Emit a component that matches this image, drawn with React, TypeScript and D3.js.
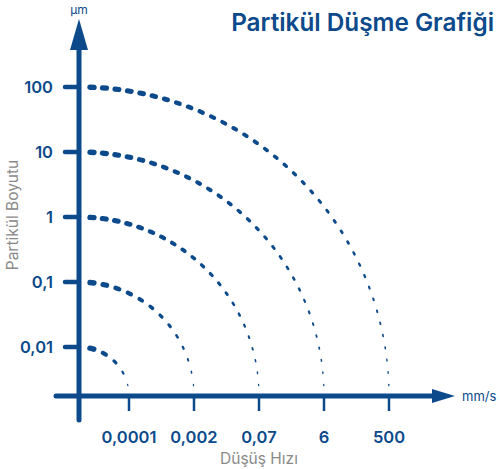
import React from "react";
import * as d3 from "d3";

const sizeLabels = ["0,01", "0,1", "1", "10", "100"];
const speedLabels = ["0,0001", "0,002", "0,07", "6", "500"];
const unitY = "µm";
const unitX = "mm/s";
const title = "Partikül Düşme Grafiği";
const yTitle = "Partikül Boyutu";
const xTitle = "Düşüş Hızı";

const BLUE = "#0c4a8b";
const GRAY = "#8a8a8a";
const FONT = "Inter, 'Noto Sans', sans-serif";

export default function App() {
  const W = 500, H = 469;
  const x0 = 79, y0 = 396;
  const x = d3.scaleLinear().domain([1, 5]).range([129, 389]);
  const y = d3.scaleLinear().domain([1, 5]).range([347, 87]);

  const arcs = sizeLabels.map((_, i) => {
    const rx = x(i + 1) - x0;
    const ry = y0 - y(i + 1);
    const thEnd = Math.acos(11 / ry);
    const samples = d3.range(0, 101).map((k) => {
      const t = (k / 100) * thEnd;
      return [x0 + rx * Math.sin(t), y0 - ry * Math.cos(t)];
    });
    let len = 0;
    for (let k = 1; k < samples.length; k++) {
      len += Math.hypot(samples[k][0] - samples[k - 1][0], samples[k][1] - samples[k - 1][1]);
    }
    const thStart = 13 / rx;
    const n = Math.max(3, Math.round((len - 13) / 12.5));
    return d3.range(0, n + 1).map((k) => {
      const f = k / n;
      const t = thStart + f * (thEnd - thStart);
      const px = x0 + rx * Math.sin(t);
      const py = y0 - ry * Math.cos(t);
      let tx = rx * Math.cos(t), ty = ry * Math.sin(t);
      const m = Math.hypot(tx, ty);
      tx /= m; ty /= m;
      const w = 5.4 - 4.2 * f;
      const L = 4 - 2.5 * f;
      return { x1: px - (tx * L) / 2, y1: py - (ty * L) / 2, x2: px + (tx * L) / 2, y2: py + (ty * L) / 2, w };
    });
  });

  return (
    <svg width={W} height={H} style={{ display: "block", position: "absolute", left: 0, top: 0 }}>
      <rect width={W} height={H} fill="#fff" />
      <text x={494} y={31} textAnchor="end" fontFamily={FONT} fontWeight={600} fontSize={24.3} fill={BLUE}>
        {title}
      </text>

      {arcs.map((dashes, i) => (
        <g key={i}>
          {dashes.map((d, k) => (
            <line key={k} x1={d.x1} y1={d.y1} x2={d.x2} y2={d.y2} stroke={BLUE} strokeWidth={d.w} strokeLinecap="round" />
          ))}
        </g>
      ))}

      <line x1={x0} y1={420} x2={x0} y2={48} stroke={BLUE} strokeWidth={5} strokeLinecap="round" />
      <path d={`M${x0},19 L${x0 + 9},50 L${x0 - 9},50 Z`} fill={BLUE} />
      <text x={x0} y={14} textAnchor="middle" fontFamily={FONT} fontSize={12} fill={BLUE}>{unitY}</text>

      <line x1={56} y1={y0} x2={434} y2={y0} stroke={BLUE} strokeWidth={5} strokeLinecap="round" />
      <path d={`M455,${y0} L432,${y0 - 7} L432,${y0 + 7} Z`} fill={BLUE} />
      <text x={462} y={401} fontFamily={FONT} fontSize={13} fill={BLUE}>{unitX}</text>

      {sizeLabels.map((lab, i) => (
        <g key={lab}>
          <line x1={65} y1={y(i + 1)} x2={x0} y2={y(i + 1)} stroke={BLUE} strokeWidth={4.5} strokeLinecap="round" />
          <text x={53} y={y(i + 1) + 6} textAnchor="end" fontFamily={FONT} fontWeight={600} fontSize={16.5} fill={BLUE}>
            {lab}
          </text>
        </g>
      ))}

      {speedLabels.map((lab, i) => (
        <g key={lab}>
          <line x1={x(i + 1)} y1={y0} x2={x(i + 1)} y2={411} stroke={BLUE} strokeWidth={2.5} />
          <text x={x(i + 1)} y={443} textAnchor="middle" fontFamily={FONT} fontWeight={600} fontSize={16.5} fill={BLUE}>
            {lab}
          </text>
        </g>
      ))}

      <text transform={`translate(18,215) rotate(-90)`} textAnchor="middle" fontFamily={FONT} fontSize={15.5} fill={GRAY}>
        {yTitle}
      </text>
      <text x={259} y={464} textAnchor="middle" fontFamily={FONT} fontSize={15.5} fill={GRAY}>
        {xTitle}
      </text>
    </svg>
  );
}
